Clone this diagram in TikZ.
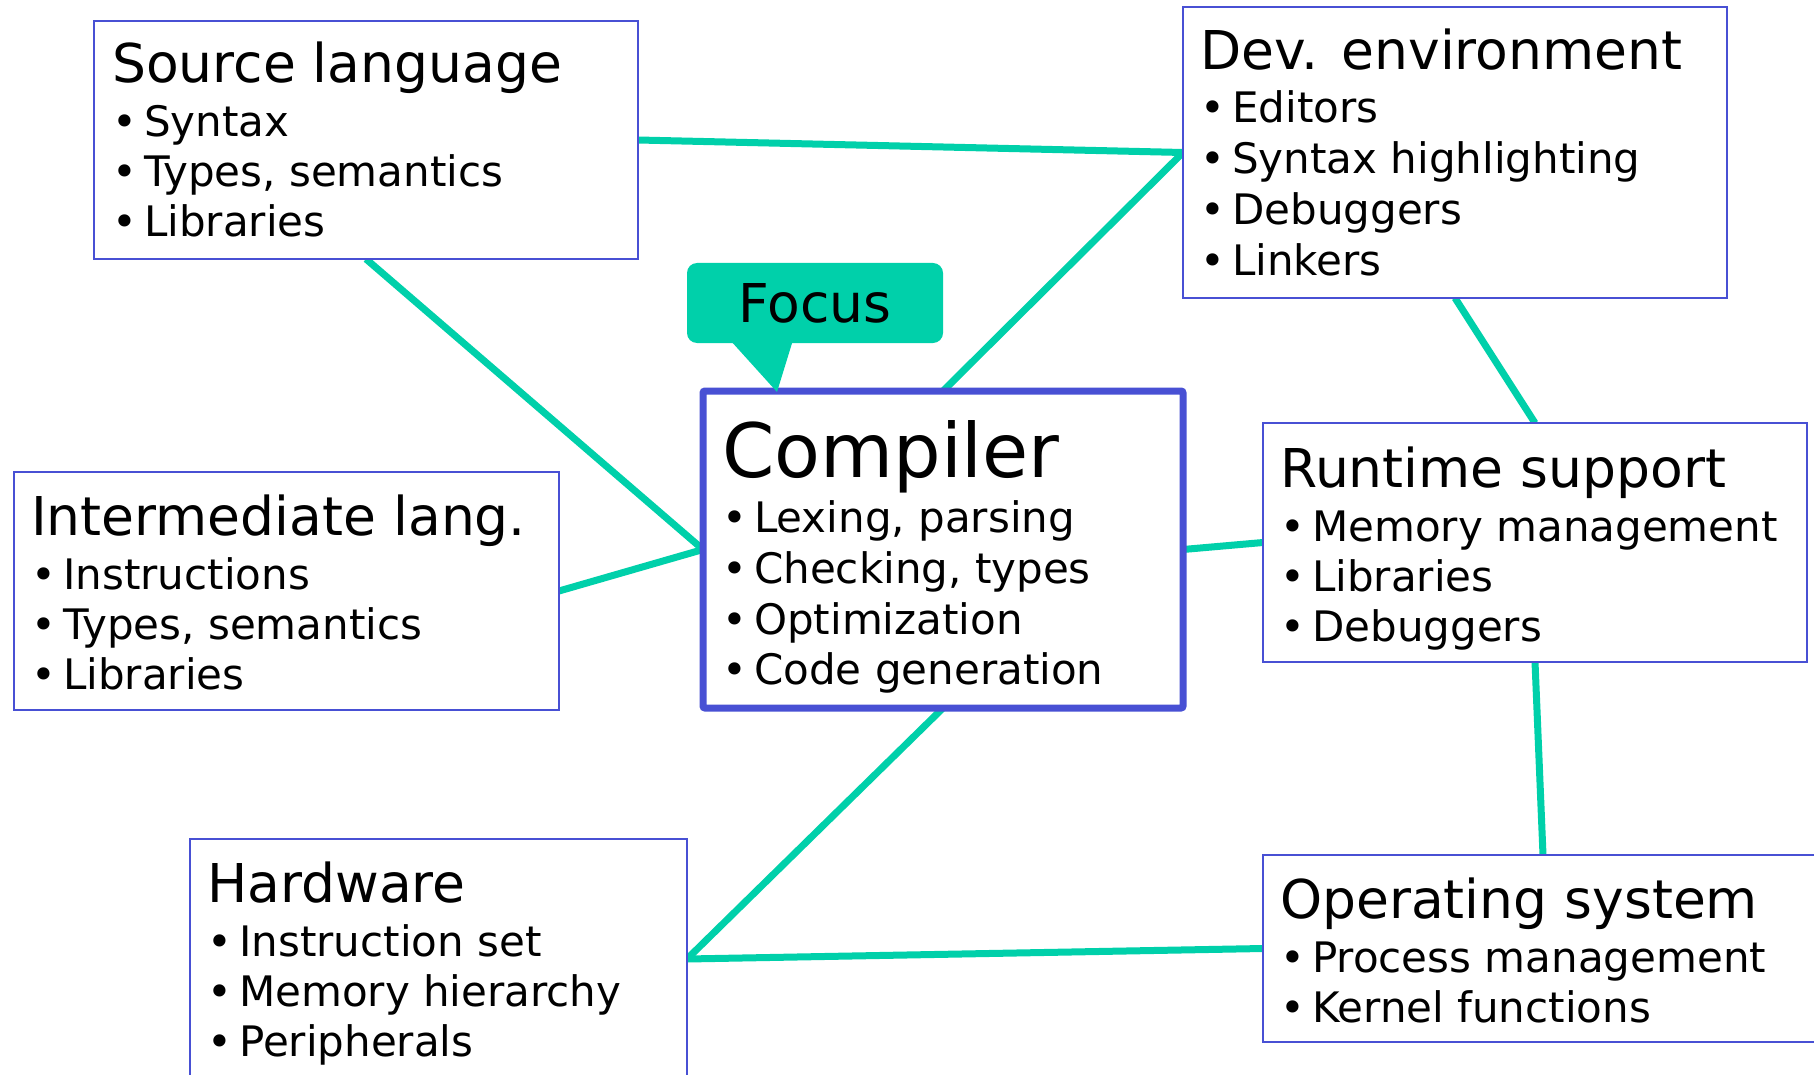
\documentclass[tikz,border=0pt]{standalone}
\usepackage{fontspec}
\setmainfont{DejaVu Sans}
\definecolor{linkc}{RGB}{0,208,170}
\definecolor{frame}{RGB}{72,80,212}
\newcommand\bl[1]{\makebox[32pt][l]{•}#1\par}
\newcommand\boxtext[2]{\parbox[t]{600pt}{\raggedright{\fontsize{53.5}{53.5}\selectfont #1\par}\vspace{4pt}\fontsize{42}{50}\selectfont #2}}
\pgfdeclarelayer{bg}
\pgfdeclarelayer{lines}
\pgfsetlayers{bg,lines,main}
\begin{document}
\begin{tikzpicture}[x=1pt,y=-1pt,
  frm/.style={draw=frame, line width=2pt, fill=white, inner sep=0pt, outer sep=0pt, anchor=north west},
  txt/.style={inner sep=0pt, anchor=base west},
  link/.style={draw=linkc, line width=7pt}]
\useasboundingbox (0,0) rectangle (1814,1075);
\begin{pgfonlayer}{bg}
\fill[white] (0,0) rectangle (1814,1075);
\end{pgfonlayer}

% boxes
\node[frm, minimum width=544pt, minimum height=238pt] (src) at (94,21) {};
\node[frm, minimum width=544pt, minimum height=291pt] (dev) at (1183,7) {};
\node[frm, draw=frame, line width=7pt, rounded corners=2pt, minimum width=480pt, minimum height=317pt] (comp) at (703,391) {};
\node[frm, minimum width=545pt, minimum height=238pt] (inter) at (14,472) {};
\node[frm, minimum width=497pt, minimum height=240pt] (hw) at (190,839) {};
\node[frm, minimum width=544pt, minimum height=239pt] (rt) at (1263,423) {};
\node[frm, minimum width=560pt, minimum height=187pt] (os) at (1263,855) {};

% texts
\node[txt] (srct) at (112,83) {\boxtext{Source language}{\bl{Syntax}\bl{Types, semantics}\bl{Libraries}}};
\node[txt] (devt) at (1200,70) {\parbox[t]{600pt}{\raggedright{\fontsize{53.5}{53.5}\selectfont Dev. environment\par}\vspace{2pt}\fontsize{42}{51}\selectfont \bl{Editors}\bl{Syntax highlighting}\bl{Debuggers}\bl{Linkers}}};
\node[txt] (compt) at (722,477) {\parbox[t]{460pt}{\raggedright{\fontsize{75}{75}\selectfont Compiler\par}\vspace{5pt}\fontsize{42}{50.7}\selectfont \bl{Lexing, parsing}\bl{Checking, types}\bl{Optimization}\bl{Code generation}}};
\node[txt] (intert) at (31,535) {\boxtext{Intermediate lang.}{\bl{Instructions}\bl{Types, semantics}\bl{Libraries}}};
\node[txt] (hwt) at (207,902) {\boxtext{Hardware}{\bl{Instruction set}\bl{Memory hierarchy}\bl{Peripherals}}};
\node[txt] (rtt) at (1280,487) {\boxtext{Runtime support}{\bl{Memory management}\bl{Libraries}\bl{Debuggers}}};
\node[txt] (ost) at (1280,918) {\boxtext{Operating system}{\bl{Process management}\bl{Kernel functions}}};

% focus callout
\node[fill=linkc, rounded corners=10pt, minimum width=256pt, minimum height=80pt, anchor=north west, inner sep=0pt, outer sep=0pt, font={\fontsize{53.5}{53.5}\selectfont}] (focus) at (687,263) {Focus};
\fill[linkc] (730,340) -- (777,392) -- (793,340) -- cycle;

% connectors
\begin{pgfonlayer}{lines}
\draw[link] (src.east) -- (dev.west);
\draw[link] (dev.west) -- (comp.north);
\draw[link] (src.south) -- (comp.west);
\draw[link] (inter.east) -- (comp.west);
\draw[link] (comp.east) -- (rt.west);
\draw[link] (dev.south) -- (rt.north);
\draw[link] (rt.south) -- (os.north);
\draw[link] (comp.south) -- (hw.east);
\draw[link] (hw.east) -- (os.west);
\end{pgfonlayer}
\end{tikzpicture}
\end{document}
